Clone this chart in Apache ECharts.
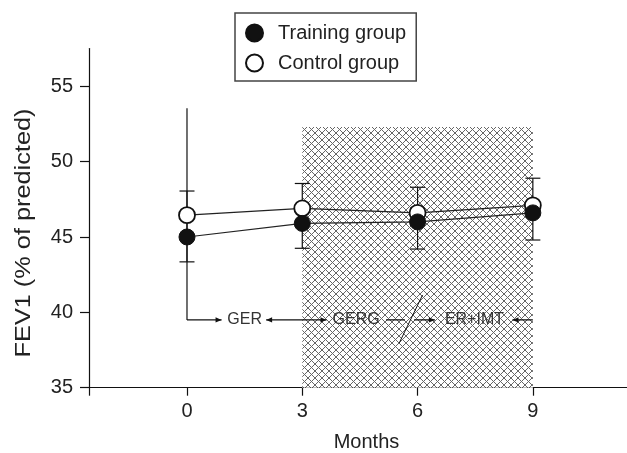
<!DOCTYPE html>
<html>
<head>
<meta charset="utf-8">
<script src="https://cdn.jsdelivr.net/npm/echarts@6/dist/echarts.min.js"></script>
<style>
html,body{margin:0;padding:0;background:#fff;}
#chart{width:627px;height:453px;}
</style>
</head>
<body>
<div id="chart"></div>
<script>
// ---- data ----
const months = [0, 3, 6, 9];
const trainingGroup = [45.0, 45.9, 46.0, 46.6];
const controlGroup = [46.45, 46.9, 46.6, 47.1];
const errorLow = [43.35, 44.25, 44.2, 44.8];
const errorHigh = [48.05, 48.55, 48.3, 48.9];
const xTickValues = [0, 3, 6, 9];
const yTickValues = [35, 40, 45, 50, 55];
const shadedPeriod = [3, 9];
const shadedRange = [35, 52.3];
const phaseLabels = ['GER', 'GERG', 'ER+IMT'];
const phaseLabelX = [1.5, 4.4, 7.48];
const phaseY = 39.5;
const bracketTop = 53.55;
// arrows: [fromX, toX, headAtFrom, headAtTo]
const phaseArrows = [
  [0, 0.9, false, true],
  [2.06, 3.63, true, true],
  [5.18, 5.67, false, false],
  [5.91, 6.45, false, true],
  [8.47, 9.0, true, false]
];
const slashLine = [[5.52, 37.95], [6.13, 41.15]];

const FONT = "'Liberation Sans', Arial, Helvetica, sans-serif";

// crosshatch pattern
function makeHatch() {
  const s = 7;
  const c = document.createElement('canvas');
  c.width = s; c.height = s;
  const g = c.getContext('2d');
  g.fillStyle = '#fff';
  g.fillRect(0, 0, s, s);
  g.strokeStyle = '#666';
  g.lineWidth = 1;
  for (let k = -1; k <= 1; k++) {
    g.beginPath();
    g.moveTo(k * s, 0); g.lineTo(k * s + s, s);
    g.moveTo(k * s + s, 0); g.lineTo(k * s, s);
    g.stroke();
  }
  return c;
}
const hatch = makeHatch();

const chart = echarts.init(document.getElementById('chart'), null, {renderer: 'canvas'});

function arrowHead(tip, dir) {
  const L = 6, W = 2.6;
  return {
    type: 'polygon',
    shape: {points: [[tip[0], tip[1]], [tip[0] - dir * L, tip[1] - W], [tip[0] - dir * L, tip[1] + W]]},
    style: {fill: '#111'}
  };
}

const option = {
  animation: false,
  backgroundColor: '#fff',
  textStyle: {fontFamily: FONT},
  grid: {left: 89, right: 0, top: 48.6, bottom: 65.3, containLabel: false, outerBoundsMode: 'none'},
  legend: {
    data: ['Training group', 'Control group'],
    orient: 'vertical',
    left: 235,
    top: 13,
    icon: 'circle',
    itemWidth: 17,
    itemHeight: 17,
    itemGap: 10,
    padding: [10, 10, 8, 10],
    borderColor: '#444',
    borderWidth: 1.5,
    textStyle: {fontSize: 20, color: '#222', fontFamily: FONT, padding: [0, 0, 0, 10]}
  },
  xAxis: {
    type: 'value',
    min: -2.55,
    max: 11.45,
    name: 'Months',
    nameLocation: 'middle',
    nameGap: 45,
    nameTextStyle: {fontSize: 20, color: '#222', fontFamily: FONT, padding: [0, 0, 0, 17]},
    axisLine: {onZero: false, lineStyle: {color: '#111', width: 1.2}},
    axisTick: {show: true, length: 8, customValues: [-2.55].concat(xTickValues), lineStyle: {color: '#111', width: 1.2}},
    axisLabel: {customValues: xTickValues, fontSize: 20, color: '#222', margin: 14, fontFamily: FONT},
    splitLine: {show: false}
  },
  yAxis: {
    type: 'value',
    min: 35,
    max: 57.5,
    axisLine: {show: true, onZero: false, lineStyle: {color: '#111', width: 1.2}},
    axisTick: {show: true, length: 9, customValues: yTickValues, lineStyle: {color: '#111', width: 1.2}},
    axisLabel: {customValues: yTickValues, fontSize: 20, color: '#222', margin: 16, fontFamily: FONT},
    splitLine: {show: false}
  },
  graphic: [{
    type: 'text',
    x: 24, y: 233,
    rotation: Math.PI / 2,
    scaleX: 1.15,
    style: {text: 'FEV1 (% of predicted)', fontSize: 22, fontFamily: FONT, fill: '#222', align: 'center', verticalAlign: 'middle'}
  }],
  series: [
    {
      name: 'shade',
      type: 'custom',
      z: 1,
      silent: true,
      data: [[shadedPeriod[0], shadedPeriod[1], shadedRange[0], shadedRange[1]]],
      encode: {x: [0, 1], y: [2, 3]},
      renderItem: function (params, api) {
        const p1 = api.coord([api.value(0), api.value(3)]);
        const p2 = api.coord([api.value(1), api.value(2)]);
        return {
          type: 'rect',
          shape: {x: p1[0], y: p1[1], width: p2[0] - p1[0], height: p2[1] - p1[1]},
          style: {fill: {image: hatch, repeat: 'repeat'}, stroke: null}
        };
      }
    },
    {
      name: 'phases',
      type: 'custom',
      z: 2,
      silent: true,
      data: [[0, phaseY]],
      renderItem: function (params, api) {
        const children = [];
        const y = api.coord([0, phaseY])[1];
        const top = api.coord([0, bracketTop]);
        children.push({type: 'line', shape: {x1: top[0], y1: top[1], x2: top[0], y2: y}, style: {stroke: '#111', lineWidth: 1.2}});
        phaseArrows.forEach(function (a) {
          const x1 = api.coord([a[0], phaseY])[0];
          const x2 = api.coord([a[1], phaseY])[0];
          children.push({type: 'line', shape: {x1: x1, y1: y, x2: x2, y2: y}, style: {stroke: '#111', lineWidth: 1.3}});
          if (a[2]) children.push(arrowHead([x1, y], -1));
          if (a[3]) children.push(arrowHead([x2, y], 1));
        });
        const s1 = api.coord(slashLine[0]);
        const s2 = api.coord(slashLine[1]);
        children.push({type: 'line', shape: {x1: s1[0], y1: s1[1], x2: s2[0], y2: s2[1]}, style: {stroke: '#111', lineWidth: 1}});
        phaseLabels.forEach(function (t, i) {
          const p = api.coord([phaseLabelX[i], phaseY]);
          children.push({type: 'text', x: p[0], y: p[1], style: {text: t, fontSize: 16, fontFamily: FONT, fill: '#333', align: 'center', verticalAlign: 'middle'}});
        });
        return {type: 'group', children: children};
      }
    },
    {
      name: 'errors',
      type: 'custom',
      z: 3,
      silent: true,
      data: months.map(function (m, i) { return [m, errorLow[i], errorHigh[i]]; }),
      encode: {x: 0, y: [1, 2]},
      renderItem: function (params, api) {
        const lo = api.coord([api.value(0), api.value(1)]);
        const hi = api.coord([api.value(0), api.value(2)]);
        const w = 7.5;
        const st = {stroke: '#111', lineWidth: 1.2};
        return {type: 'group', children: [
          {type: 'line', shape: {x1: lo[0], y1: lo[1], x2: hi[0], y2: hi[1]}, style: st},
          {type: 'line', shape: {x1: lo[0] - w, y1: lo[1], x2: lo[0] + w, y2: lo[1]}, style: st},
          {type: 'line', shape: {x1: hi[0] - w, y1: hi[1], x2: hi[0] + w, y2: hi[1]}, style: st}
        ]};
      }
    },
    {
      name: 'Control group',
      type: 'line',
      z: 4,
      data: months.map(function (m, i) { return [m, controlGroup[i]]; }),
      symbol: 'circle',
      symbolSize: 16,
      lineStyle: {color: '#222', width: 1.2},
      itemStyle: {color: '#fff', borderColor: '#111', borderWidth: 1.8},
      emphasis: {disabled: true}
    },
    {
      name: 'Training group',
      type: 'line',
      z: 5,
      data: months.map(function (m, i) { return [m, trainingGroup[i]]; }),
      symbol: 'circle',
      symbolSize: 16,
      lineStyle: {color: '#222', width: 1.2},
      itemStyle: {color: '#111', borderColor: '#111', borderWidth: 1},
      emphasis: {disabled: true}
    }
  ]
};
chart.setOption(option);
</script>
</body>
</html>
